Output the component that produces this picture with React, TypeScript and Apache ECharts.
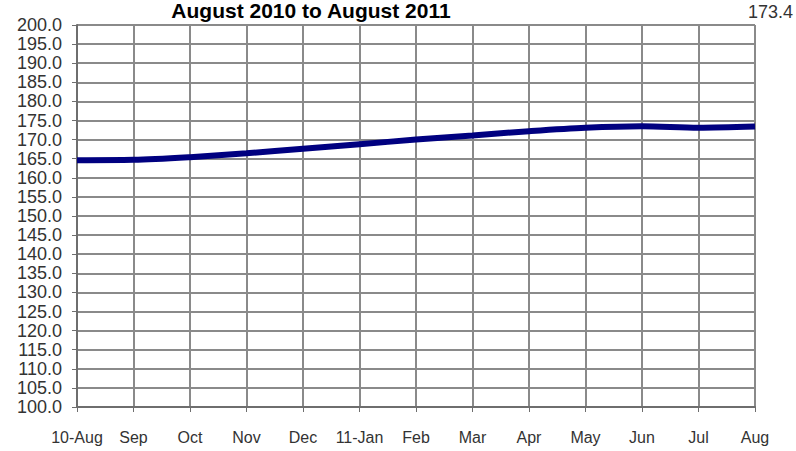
import React, { useEffect, useRef } from "react";
import * as echarts from "echarts";

const categories = ["10-Aug", "Sep", "Oct", "Nov", "Dec", "11-Jan", "Feb", "Mar", "Apr", "May", "Jun", "Jul", "Aug"];
const values = [164.6, 164.7, 165.4, 166.4, 167.6, 168.8, 170.0, 171.1, 172.2, 173.1, 173.5, 173.1, 173.4];
const titleText = "August 2010 to August 2011";
const yMin = 100;
const yMax = 200;
const yStep = 5;

export default function App() {
  const ref = useRef<HTMLDivElement>(null);
  useEffect(() => {
    document.body.style.margin = "0";
    if (!ref.current) return;
    const chart = echarts.init(ref.current, undefined, { renderer: "svg" });
    const font = "'Liberation Sans', Arial, sans-serif";
    const lastVal = values[values.length - 1];
    chart.setOption({
      animation: false,
      backgroundColor: "#ffffff",
      textStyle: { fontFamily: font },
      title: {
        text: titleText,
        left: 311,
        textAlign: "center",
        top: 0,
        padding: 0,
        textStyle: { fontSize: 21, fontWeight: "bold", color: "#000", fontFamily: font },
      },
      graphic: [
        {
          type: "text",
          right: 3,
          top: 3,
          style: { text: lastVal.toFixed(1), fontSize: 18, fill: "#333", fontFamily: font },
        },
      ],
      grid: { left: 77, right: 41, top: 25, bottom: 44, containLabel: false, outerBoundsMode: "none" },
      xAxis: {
        type: "category",
        data: categories,
        boundaryGap: false,
        axisLine: { show: true, lineStyle: { color: "#6e6e6e", width: 2 } },
        axisTick: { show: true, alignWithLabel: true, interval: 0, length: 5, lineStyle: { color: "#6e6e6e", width: 1 } },
        axisLabel: { fontSize: 16, color: "#333", margin: 22, interval: 0, fontFamily: font },
        splitLine: { show: true, interval: 0, lineStyle: { color: "#8a8a8a", width: 2 } },
      },
      yAxis: {
        type: "value",
        min: yMin,
        max: yMax,
        interval: yStep,
        axisLine: { show: true, lineStyle: { color: "#6e6e6e", width: 2 } },
        axisTick: { show: true, length: 5, lineStyle: { color: "#6e6e6e", width: 1 } },
        axisLabel: { fontSize: 18, color: "#333", margin: 15, formatter: (v: number) => v.toFixed(1), fontFamily: font },
        splitLine: { show: true, lineStyle: { color: "#8a8a8a", width: 2 } },
      },
      series: [
        {
          type: "line",
          data: values,
          smooth: 0.3,
          symbol: "none",
          lineStyle: { color: "#000080", width: 6 },
        },
      ],
    });
    return () => chart.dispose();
  }, []);
  return <div ref={ref} style={{ width: 796, height: 451 }} />;
}
